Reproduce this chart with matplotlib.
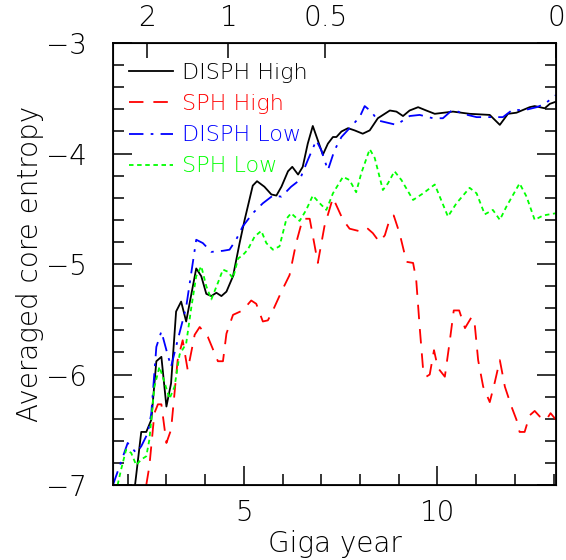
import matplotlib
matplotlib.use("Agg")
import matplotlib.pyplot as plt
from matplotlib.ticker import MultipleLocator

# DISPH High (black, solid)
disph_high_t = [2.19, 2.35, 2.48, 2.61, 2.74, 2.87, 3.00, 3.12, 3.25, 3.38, 3.51, 3.77, 3.90,
                4.03, 4.16, 4.29, 4.42, 4.55, 4.72, 4.89, 5.02, 5.23, 5.34, 5.53, 5.71, 5.84,
                5.97, 6.14, 6.25, 6.40, 6.52, 6.65, 6.78, 6.91, 7.04, 7.17, 7.30, 7.39, 7.52,
                7.69, 7.86, 8.07, 8.25, 8.46, 8.77, 8.94, 9.11, 9.28, 9.50, 9.71, 9.93, 10.40,
                10.83, 11.35, 11.61, 11.82, 12.04, 12.38, 12.51, 12.77, 12.90, 13.06]
disph_high_s = [-7.00, -6.52, -6.52, -6.41, -5.88, -5.84, -6.29, -6.08, -5.43, -5.34, -5.52, -5.04, -5.11,
                -5.27, -5.29, -5.26, -5.29, -5.25, -5.11, -4.81, -4.60, -4.29, -4.25, -4.30, -4.37, -4.38,
                -4.30, -4.16, -4.12, -4.19, -4.12, -3.91, -3.75, -3.88, -4.01, -3.91, -3.85, -3.85, -3.80,
                -3.77, -3.79, -3.82, -3.79, -3.68, -3.61, -3.62, -3.66, -3.61, -3.58, -3.61, -3.64, -3.62,
                -3.64, -3.65, -3.74, -3.64, -3.63, -3.58, -3.57, -3.59, -3.55, -3.53]

# SPH High (red, dashed)
sph_high_t = [2.48, 2.56, 2.69, 2.78, 2.87, 3.00, 3.12, 3.29, 3.42, 3.55, 3.73, 3.86, 4.07,
              4.33, 4.46, 4.55, 4.72, 4.97, 5.19, 5.32, 5.49, 5.62, 5.75, 5.97, 6.18, 6.35,
              6.52, 6.70, 6.91, 7.08, 7.30, 7.56, 7.73, 8.07, 8.20, 8.33, 8.50, 8.64, 8.77,
              8.87, 9.02, 9.20, 9.37, 9.45, 9.54, 9.63, 9.71, 9.80, 9.91, 10.01, 10.19, 10.32,
              10.42, 10.56, 10.71, 10.88, 10.96, 11.05, 11.18, 11.35, 11.48, 11.61, 11.74, 11.91,
              12.04, 12.12, 12.25, 12.38, 12.51, 12.64, 12.81, 12.92, 13.06]
sph_high_s = [-7.00, -6.83, -6.35, -6.27, -6.27, -6.62, -6.50, -5.87, -5.69, -5.96, -5.64, -5.57, -5.66,
              -5.88, -5.88, -5.63, -5.46, -5.42, -5.33, -5.36, -5.52, -5.51, -5.42, -5.25, -5.10, -4.81,
              -4.59, -4.59, -4.99, -4.66, -4.40, -4.60, -4.68, -4.71, -4.68, -4.72, -4.80, -4.74, -4.59,
              -4.56, -4.72, -4.98, -4.99, -5.14, -5.57, -5.96, -6.02, -6.00, -5.78, -5.94, -6.02, -5.69,
              -5.42, -5.42, -5.58, -5.48, -5.54, -5.87, -6.11, -6.25, -6.07, -5.87, -6.11, -6.29,
              -6.41, -6.52, -6.52, -6.37, -6.33, -6.38, -6.41, -6.35, -6.41]

# DISPH Low (blue, dash-dot)
disph_low_t = [1.62, 1.79, 2.00, 2.22, 2.35, 2.52, 2.61, 2.74, 2.87, 3.00, 3.12, 3.29, 3.51,
               3.77, 3.94, 4.16, 4.46, 4.63, 4.80, 4.97, 5.23, 5.49, 5.75, 5.97, 6.22, 6.44,
               6.65, 6.87, 7.00, 7.17, 7.34, 7.52, 7.73, 7.99, 8.12, 8.29, 8.46, 8.94, 9.28,
               9.54, 9.88, 10.14, 10.40, 10.66, 11.01, 11.35, 11.69, 11.95, 12.21, 12.56, 12.77,
               13.06]
disph_low_s = [-7.00, -6.83, -6.62, -6.71, -6.65, -6.53, -6.35, -5.75, -5.61, -5.78, -5.93, -5.69, -5.39,
               -4.78, -4.81, -4.89, -4.88, -4.87, -4.78, -4.66, -4.54, -4.45, -4.38, -4.39, -4.30, -4.24,
               -4.06, -3.88, -3.97, -4.15, -3.97, -3.85, -3.77, -3.67, -3.57, -3.62, -3.70, -3.74, -3.66,
               -3.65, -3.68, -3.68, -3.60, -3.64, -3.67, -3.67, -3.67, -3.60, -3.61, -3.58, -3.55,
               -3.47]

# SPH Low (green, dotted)
sph_low_t = [1.74, 1.83, 1.96, 2.09, 2.22, 2.35, 2.48, 2.56, 2.69, 2.82, 2.95, 3.08, 3.21,
             3.34, 3.51, 3.64, 3.77, 3.90, 4.03, 4.16, 4.33, 4.46, 4.59, 4.72, 4.85, 4.97,
             5.10, 5.28, 5.45, 5.58, 5.75, 5.92, 6.10, 6.22, 6.44, 6.61, 6.78, 6.96, 7.13,
             7.30, 7.56, 7.73, 7.90, 8.03, 8.25, 8.38, 8.59, 8.72, 8.89, 9.07, 9.37, 9.63,
             9.93, 10.27, 10.49, 10.83, 11.01, 11.22, 11.43, 11.61, 11.78, 12.12, 12.30, 12.51,
             12.73, 13.06]
sph_low_s = [-7.00, -6.86, -6.68, -6.71, -6.82, -6.77, -6.74, -6.59, -6.11, -5.93, -6.07, -6.22, -6.11,
             -5.82, -5.72, -5.40, -5.11, -5.02, -5.20, -5.32, -5.17, -5.05, -5.07, -5.13, -4.95, -4.92,
             -4.87, -4.75, -4.70, -4.81, -4.87, -4.84, -4.59, -4.54, -4.61, -4.51, -4.38, -4.45, -4.51,
             -4.36, -4.21, -4.24, -4.35, -4.18, -3.96, -4.04, -4.33, -4.27, -4.16, -4.24, -4.42, -4.36,
             -4.28, -4.57, -4.45, -4.31, -4.36, -4.55, -4.51, -4.60, -4.48, -4.27, -4.39, -4.60,
             -4.56, -4.54]

# redshift labels on the top axis and where they fall in Gyr
z_labels = ["2", "1", "0.5", "0"]
z_times = [2.50, 4.60, 7.10, 13.06]

plt.rcParams['font.family'] = ['DejaVu Sans']
plt.rcParams['font.weight'] = 'light'
W = 'light'

fig = plt.figure(figsize=(5.66, 5.6), dpi=100)
ax = fig.add_axes([0.1996, 0.134, 0.7827, 0.789])

lw = 1.3
ax.plot(disph_high_t, disph_high_s, color="black", lw=lw, label="DISPH High")
ax.plot(sph_high_t, sph_high_s, color="#ff0000", lw=lw, ls=(0, (8, 5.5)), label="SPH High")
ax.plot(disph_low_t, disph_low_s, color="#0000ff", lw=lw, ls=(0, (8, 4, 1.5, 4)), label="DISPH Low")
ax.plot(sph_low_t, sph_low_s, color="#00ff00", lw=lw, ls=(0, (2.5, 2)), label="SPH Low")

ax.set_xlim(1.62, 13.06)
ax.set_ylim(-7, -3)
ax.xaxis.set_major_locator(MultipleLocator(5))
ax.xaxis.set_minor_locator(MultipleLocator(1))
ax.yaxis.set_major_locator(MultipleLocator(1))
ax.yaxis.set_minor_locator(MultipleLocator(0.2))
ax.tick_params(which="both", direction="in", right=True, top=False, labelsize=20, width=1.1)
ax.tick_params(axis="y", which="major", length=14, pad=19)
ax.tick_params(axis="x", which="major", length=14, pad=10)
ax.tick_params(which="minor", length=8)
for s in ax.spines.values():
    s.set_linewidth(1.3)

ax.set_xlabel("Giga year", fontsize=20, labelpad=2, fontweight=W)
ax.set_ylabel("Averaged core entropy", fontsize=20, labelpad=1, fontweight=W)

top = ax.twiny()
top.set_xlim(ax.get_xlim())
top.set_xticks(z_times)
top.set_xticklabels(z_labels)
top.tick_params(direction="in", length=11, labelsize=20, width=1.1, pad=8)

for lab in ax.get_xticklabels() + ax.get_yticklabels() + top.get_xticklabels():
    lab.set_fontweight(W)

ax.legend(loc="upper left", frameon=False, labelcolor="linecolor",
          prop={"size": 16, "weight": W},
          handlelength=2.0, handletextpad=0.4, labelspacing=0.5,
          borderaxespad=0.3, bbox_to_anchor=(0.0, 0.99))

fig.savefig("out.png", dpi=100)
